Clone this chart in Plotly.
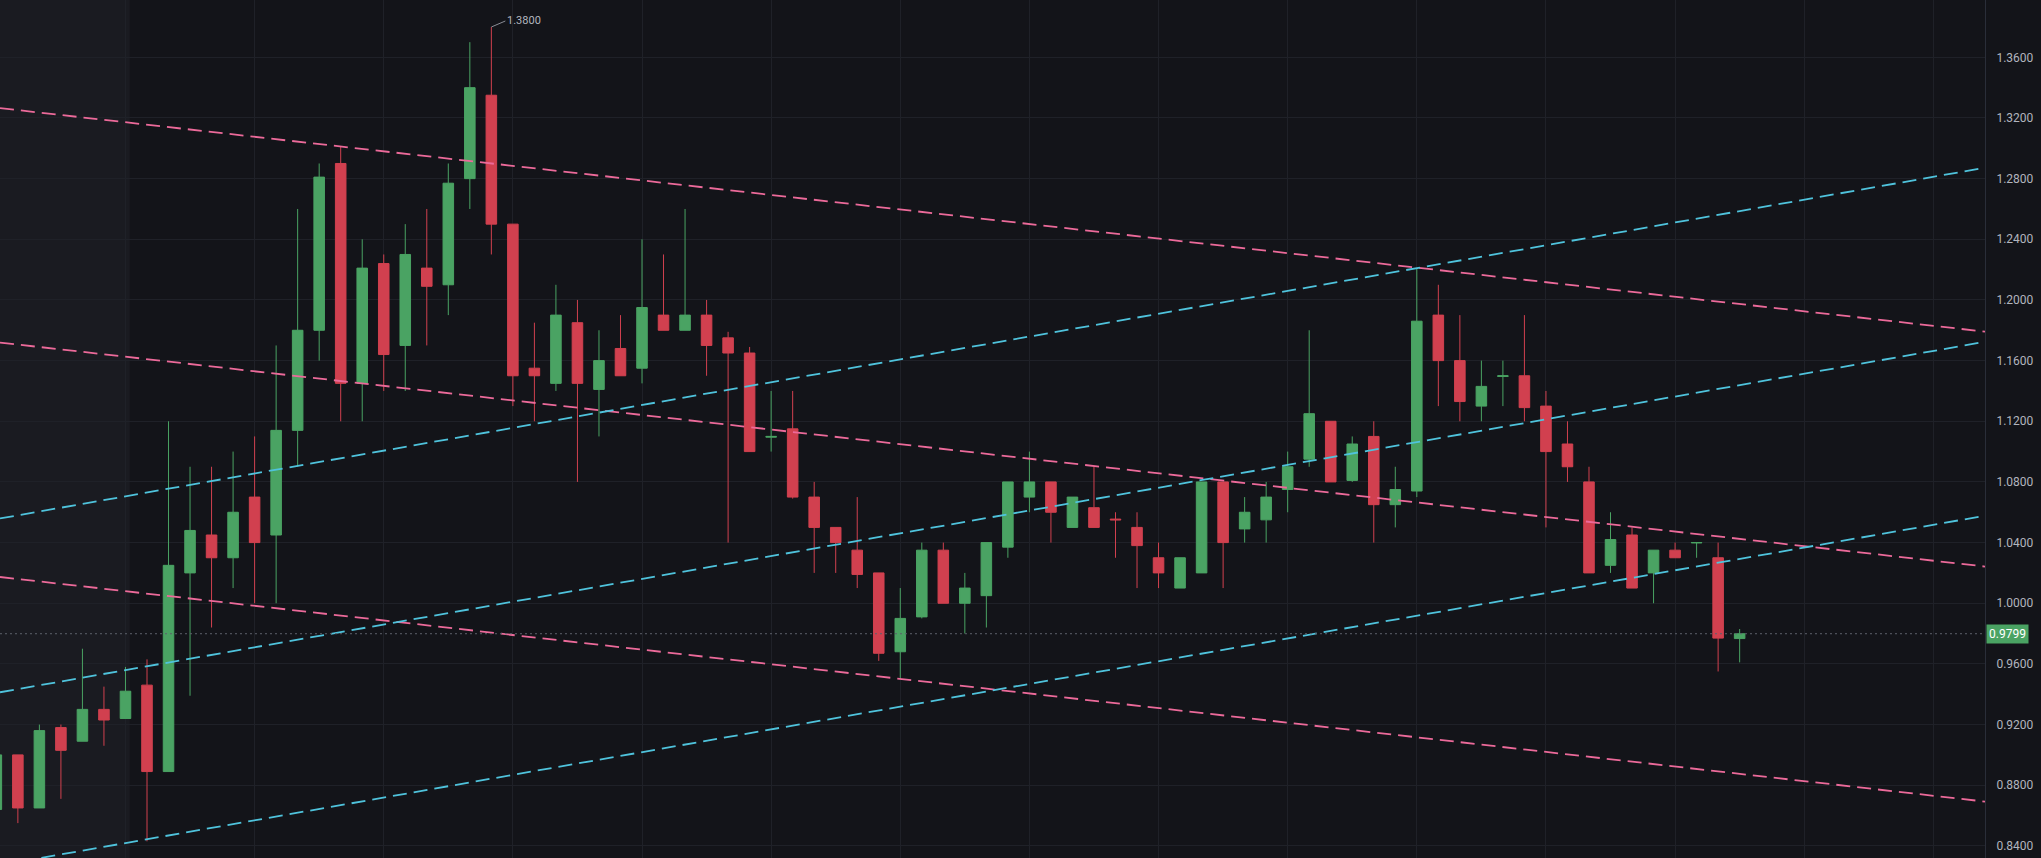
import plotly.graph_objects as go

# OHLC values, one entry per candle
open_ = [0.864, 0.900, 0.865, 0.918, 0.909, 0.930, 0.924, 0.946, 0.889, 1.020,
         1.045, 1.030, 1.070, 1.045, 1.114, 1.180, 1.290, 1.145, 1.224, 1.170,
         1.221, 1.210, 1.280, 1.335, 1.250, 1.155, 1.145, 1.185, 1.141, 1.168,
         1.155, 1.190, 1.180, 1.190, 1.175, 1.165, 1.1095, 1.115, 1.070, 1.050,
         1.035, 1.020, 0.968, 0.991, 1.035, 1.000, 1.005, 1.037, 1.070, 1.080,
         1.050, 1.063, 1.0555, 1.050, 1.030, 1.010, 1.020, 1.080, 1.049, 1.055,
         1.075, 1.095, 1.120, 1.081, 1.110, 1.065, 1.074, 1.190, 1.160, 1.130,
         1.1495, 1.150, 1.130, 1.105, 1.080, 1.025, 1.045, 1.020, 1.035, 1.0398,
         1.030, 0.9767]
high = [0.900, 0.900, 0.920, 0.920, 0.970, 0.945, 0.958, 0.963, 1.120, 1.090,
        1.090, 1.100, 1.110, 1.170, 1.260, 1.290, 1.301, 1.240, 1.230, 1.250,
        1.260, 1.290, 1.370, 1.380, 1.250, 1.185, 1.210, 1.200, 1.180, 1.190,
        1.240, 1.230, 1.260, 1.200, 1.179, 1.169, 1.140, 1.140, 1.080, 1.050,
        1.070, 1.020, 1.010, 1.040, 1.040, 1.020, 1.040, 1.080, 1.100, 1.080,
        1.070, 1.090, 1.060, 1.060, 1.040, 1.030, 1.080, 1.080, 1.070, 1.080,
        1.100, 1.180, 1.120, 1.110, 1.120, 1.090, 1.221, 1.210, 1.190, 1.160,
        1.160, 1.190, 1.140, 1.120, 1.090, 1.060, 1.050, 1.035, 1.040, 1.040,
        1.040, 0.983]
low = [0.864, 0.855, 0.865, 0.871, 0.909, 0.906, 0.924, 0.843, 0.889, 0.939,
       0.984, 1.010, 1.000, 1.000, 1.090, 1.160, 1.120, 1.120, 1.140, 1.140,
       1.170, 1.190, 1.260, 1.230, 1.130, 1.120, 1.140, 1.080, 1.110, 1.150,
       1.145, 1.180, 1.180, 1.150, 1.040, 1.100, 1.100, 1.069, 1.020, 1.020,
       1.010, 0.962, 0.950, 0.990, 1.000, 0.980, 0.984, 1.030, 1.060, 1.040,
       1.050, 1.050, 1.030, 1.010, 1.010, 1.010, 1.020, 1.010, 1.040, 1.040,
       1.060, 1.090, 1.080, 1.080, 1.040, 1.050, 1.070, 1.130, 1.120, 1.120,
       1.130, 1.120, 1.050, 1.080, 1.020, 1.020, 1.010, 1.000, 1.030, 1.030,
       0.955, 0.961]
close = [0.900, 0.865, 0.916, 0.903, 0.930, 0.923, 0.942, 0.889, 1.025, 1.048,
         1.030, 1.060, 1.040, 1.114, 1.180, 1.281, 1.145, 1.221, 1.164, 1.230,
         1.209, 1.277, 1.340, 1.250, 1.150, 1.150, 1.190, 1.145, 1.160, 1.150,
         1.195, 1.180, 1.190, 1.170, 1.165, 1.100, 1.110, 1.070, 1.050, 1.040,
         1.019, 0.967, 0.990, 1.035, 1.000, 1.010, 1.040, 1.080, 1.080, 1.060,
         1.070, 1.050, 1.055, 1.038, 1.020, 1.030, 1.080, 1.040, 1.060, 1.070,
         1.090, 1.125, 1.080, 1.105, 1.065, 1.075, 1.186, 1.160, 1.133, 1.143,
         1.150, 1.129, 1.100, 1.090, 1.020, 1.042, 1.010, 1.035, 1.030, 1.040,
         0.977, 0.9799]
bars = list(range(len(close)))

# trend lines: (bar, price) at the two ends
pink_lines = [[(0.17, 1.3265), (92.4, 1.1791)],
              [(0.17, 1.1719), (92.4, 1.0242)],
              [(0.17, 1.0173), (92.4, 0.8692)]]
cyan_lines = [[(0.17, 1.0559), (92.4, 1.2872)],
              [(0.17, 0.9413), (92.4, 1.1724)],
              [(0.17, 0.8273), (92.4, 1.0577)]]

last_price = 0.9799
top_high = 1.3800

GREEN = "#4aa363"
RED = "#d1404f"
BG = "#131419"
GRID = "#1f2128"

fig = go.Figure()
fig.add_trace(go.Candlestick(
    x=bars, open=open_, high=high, low=low, close=close,
    increasing=dict(line=dict(color=GREEN, width=1), fillcolor=GREEN),
    decreasing=dict(line=dict(color=RED, width=1), fillcolor=RED),
    whiskerwidth=0, showlegend=False))

for pts, col in [(p, "#ec6a9a") for p in pink_lines] + [(c, "#4fc3dc") for c in cyan_lines]:
    fig.add_trace(go.Scatter(x=[pts[0][0], pts[1][0]], y=[pts[0][1], pts[1][1]],
                             mode="lines", line=dict(color=col, width=1.8, dash="14px,7px"),
                             showlegend=False, hoverinfo="skip"))

# last price line
fig.add_trace(go.Scatter(x=[0.17, 92.4], y=[last_price, last_price], mode="lines",
                         line=dict(color="#5d606b", width=1, dash="2px,3px"),
                         showlegend=False, hoverinfo="skip"))

# shaded session at left
fig.add_shape(type="rect", x0=0.17, x1=6.2, y0=0, y1=1, yref="paper",
              fillcolor="#1a1b21", line_width=0, layer="below")

fig.add_annotation(x=23, y=top_high, text=f"{top_high:.4f}", showarrow=True,
                   ax=14, ay=-6, arrowhead=0, arrowwidth=1, arrowcolor="#8a8d96",
                   xanchor="left", font=dict(color="#b2b5be", size=11))
fig.add_annotation(x=1, xref="paper", y=last_price, text=f"{last_price:.4f}",
                   showarrow=False, xanchor="left", xshift=1, bgcolor=GREEN,
                   font=dict(color="white", size=12), borderpad=2)

fig.update_layout(
    width=2041, height=858,
    paper_bgcolor=BG, plot_bgcolor=BG,
    margin=dict(l=0, r=56, t=0, b=0),
    font=dict(family="Roboto", color="#b2b5be", size=12),
    xaxis=dict(range=[0.17, 92.4], showticklabels=False, tick0=0, dtick=6,
               gridcolor=GRID, zeroline=False, rangeslider_visible=False),
    yaxis=dict(range=[0.832, 1.3978], side="right", dtick=0.04, tick0=0.84,
               tickformat=".4f", gridcolor=GRID, zeroline=False,
               showline=True, linecolor="#2a2e39", ticks="", ticklabelstandoff=8),
)

fig.write_html("out.html", config={"displayModeBar": False},
               post_script="document.body.style.margin='0';"
                           "document.body.style.background='#131419';"
                           "document.body.style.overflow='hidden';")
